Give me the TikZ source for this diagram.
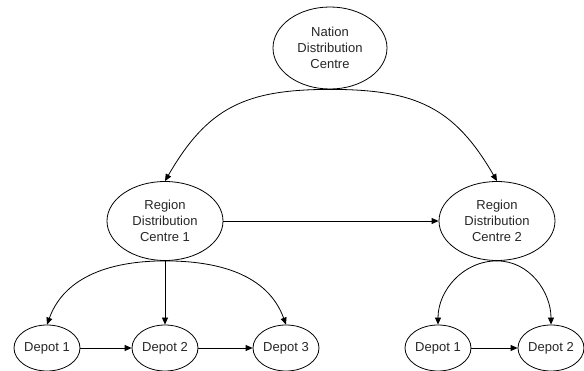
\documentclass[tikz,border=0pt]{standalone}
\usepackage{fontspec}
\setmainfont{Liberation Sans}
\usetikzlibrary{shapes.geometric,arrows.meta}
\begin{document}
\begin{tikzpicture}[x=1pt,y=-1pt,
  every node/.style={font=\fontsize{13}{16}\selectfont, align=center, text=black!85},
  bigoval/.style={draw, ellipse, line width=0.8pt, inner sep=0pt,
    minimum width=116pt, minimum height=79pt},
  depotoval/.style={draw, ellipse, line width=0.8pt, inner sep=0pt,
    minimum width=66pt, minimum height=46pt},
  link/.style={line width=0.8pt, -{Triangle[length=7pt,width=6pt]}}]
\useasboundingbox (0,0) rectangle (584,371);

% distribution centres
\node[bigoval, minimum width=114pt, minimum height=82pt] (nat) at (330,48)
  {Nation\\Distribution\\Centre};
\node[bigoval] (reg1) at (165,221) {Region\\Distribution\\Centre 1};
\node[bigoval] (reg2) at (497,221) {Region\\Distribution\\Centre 2};

% depots
\node[depotoval] (a1) at (47,348) {Depot 1};
\node[depotoval] (a2) at (165,348) {Depot 2};
\node[depotoval] (a3) at (286,348) {Depot 3};
\node[depotoval] (b1) at (438,348) {Depot 1};
\node[depotoval] (b2) at (551,348) {Depot 2};

% national to regional
\draw[link] (nat.south) to[out=180,in=60,looseness=1.15] (reg1.north);
\draw[link] (nat.south) to[out=0,in=120,looseness=1.15] (reg2.north);
\draw[link] (reg1.east) -- (reg2.west);

% region 1 to its depots
\draw[link] (reg1.south) to[out=180,in=70] (a1.north);
\draw[link] (reg1.south) -- (a2.north);
\draw[link] (reg1.south) to[out=0,in=110] (a3.north);
\draw[link] (a1.east) -- (a2.west);
\draw[link] (a2.east) -- (a3.west);

% region 2 to its depots
\draw[link] (reg2.south) to[out=180,in=90] (b1.north);
\draw[link] (reg2.south) to[out=0,in=90] (b2.north);
\draw[link] (b1.east) -- (b2.west);
\end{tikzpicture}
\end{document}
